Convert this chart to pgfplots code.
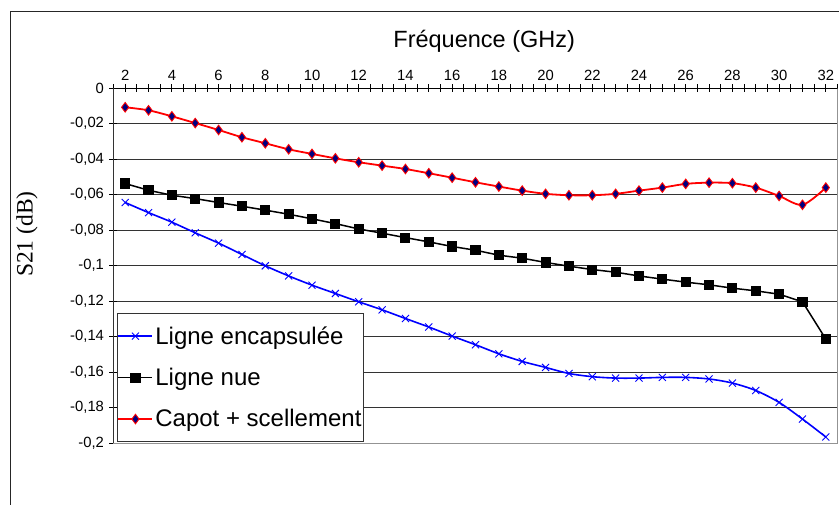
\documentclass[border=0pt]{standalone}
\usepackage{pgfplots}
\pgfplotsset{compat=1.18}
\usepackage{fontspec}
\setmainfont{Liberation Sans}
\newfontfamily\serifont{Liberation Serif}
\definecolor{navyd}{RGB}{0,0,128}
\begin{document}
\begin{tikzpicture}[x=1pt,y=1pt]
\path[use as bounding box] (0,0) rectangle (839,504);
\draw[line width=1.3pt, black!85] (10.5,-5) -- (10.5,492.5) -- (845,492.5);
\begin{axis}[
  at={(113.5pt,61pt)}, anchor=south west,
  scale only axis, width=724pt, height=354.7pt,
  xmin=1.5, xmax=32.5, ymin=-0.2, ymax=0,
  axis line style={draw=gray!85, line width=1pt},
  xtick={2,4,...,32}, minor xtick={1.5,2,...,32.5},
  xtick pos=right, xticklabel pos=right,
  ytick={0,-0.02,-0.04,-0.06,-0.08,-0.1,-0.12,-0.14,-0.16,-0.18,-0.2},
  ytick pos=left,
  tick align=center,
  major tick length=8pt, minor tick length=8pt,
  every tick/.style={black, line width=0.8pt},
  ymajorgrids,
  major grid style={black!80, line width=0.8pt},
  yticklabel style={xshift=-2pt, /pgf/number format/.cd, use comma, fixed, precision=2, assume math mode=true},
  xticklabel style={/pgf/number format/assume math mode=true},
  tick label style={font=\fontsize{14.8}{17}\selectfont},
  title={Fréquence (GHz)},
  title style={at={(axis description cs:0.512,1.116)}, anchor=center, font=\fontsize{23.5}{27}\selectfont},
  ylabel={S21 (dB)},
  every axis y label/.style={at={(axis description cs:-0.1195,0.589)}, rotate=90, anchor=center, font=\serifont\fontsize{23.5}{27}\selectfont},
  legend cell align=left,
  legend image code/.code={\draw[#1, mark repeat=2, mark phase=2] plot coordinates {(0pt,0pt) (17pt,0pt) (34pt,0pt)};},
  legend style={at={(0.005,0.003)}, anchor=south west, draw=black!80, line width=0.9pt,
    inner xsep=0pt, inner ysep=11pt, /tikz/row sep=18.5pt,
    nodes={inner sep=2pt},
    font=\fontsize{24}{27}\selectfont},
]
\addplot[blue, line width=1.6pt, smooth, mark=x, mark size=5pt, mark options={line width=0.9pt}] coordinates {
(2,-0.0644) (3,-0.0701) (4,-0.0755) (5,-0.0815) (6,-0.0873) (7,-0.0937) (8,-0.1001) (9,-0.1058)
(10,-0.1110) (11,-0.1157) (12,-0.1204) (13,-0.1249) (14,-0.1298) (15,-0.1346) (16,-0.1397)
(17,-0.1446) (18,-0.1497) (19,-0.1540) (20,-0.1574) (21,-0.1608) (22,-0.1626) (23,-0.1634)
(24,-0.1634) (25,-0.1630) (26,-0.1630) (27,-0.1639) (28,-0.1662) (29,-0.1704) (30,-0.1771)
(31,-0.1865) (32,-0.1966)};
\addlegendentry{Ligne encapsulée}
\addplot[black, line width=1.5pt, mark=square*, mark size=4.3pt] coordinates {
(2,-0.0537) (3,-0.0575) (4,-0.0603) (5,-0.0622) (6,-0.0644) (7,-0.0665) (8,-0.0687) (9,-0.0710)
(10,-0.0736) (11,-0.0763) (12,-0.0793) (13,-0.0817) (14,-0.0842) (15,-0.0866) (16,-0.0892)
(17,-0.0913) (18,-0.0941) (19,-0.0958) (20,-0.0982) (21,-0.1003) (22,-0.1022) (23,-0.1037)
(24,-0.1058) (25,-0.1076) (26,-0.1093) (27,-0.1108) (28,-0.1127) (29,-0.1142) (30,-0.1161)
(31,-0.1204) (32,-0.1414)};
\addlegendentry{Ligne nue}
\addplot[red, line width=1.8pt, smooth, mark=diamond*, mark size=4.8pt, mark options={fill=navyd, draw=red, line width=0.9pt}] coordinates {
(2,-0.0107) (3,-0.0124) (4,-0.0158) (5,-0.0196) (6,-0.0235) (7,-0.0276) (8,-0.0310) (9,-0.0344)
(10,-0.0370) (11,-0.0395) (12,-0.0417) (13,-0.0436) (14,-0.0455) (15,-0.0479) (16,-0.0504)
(17,-0.0530) (18,-0.0554) (19,-0.0577) (20,-0.0595) (21,-0.0603) (22,-0.0603) (23,-0.0595)
(24,-0.0577) (25,-0.0560) (26,-0.0539) (27,-0.0532) (28,-0.0535) (29,-0.0560) (30,-0.0607)
(31,-0.0657) (32,-0.0560)};
\addlegendentry{Capot + scellement}
\draw[black, line width=1pt] (rel axis cs:0,0) -- (rel axis cs:0,1) -- (rel axis cs:1,1);
\end{axis}
\end{tikzpicture}
\end{document}
